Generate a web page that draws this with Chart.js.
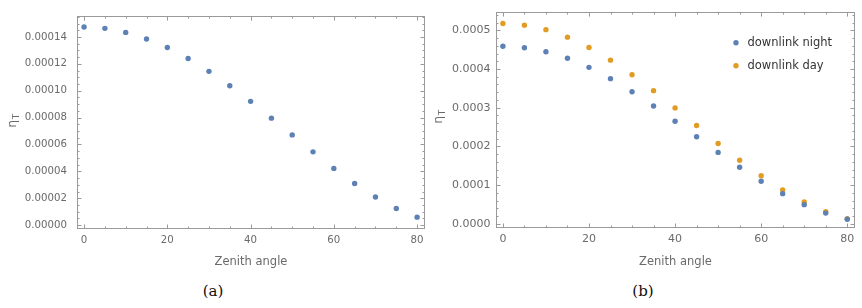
<!DOCTYPE html>
<html>
<head>
<meta charset="utf-8">
<script src="https://cdn.jsdelivr.net/npm/chart.js@4.4.1/dist/chart.umd.min.js"></script>
<style>
  html, body { margin: 0; padding: 0; background: #fff; }
  body { width: 862px; height: 308px; position: relative; overflow: hidden; }
  canvas { position: absolute; top: 0; }
  .cap { position: absolute; top: 282px; font-family: "DejaVu Serif", "Liberation Serif", serif; font-size: 15px; color: #111; width: 40px; text-align: center; }
</style>
</head>
<body>
<canvas id="ca" width="430" height="275" style="left:0px"></canvas>
<canvas id="cb" width="432" height="275" style="left:430px"></canvas>
<div class="cap" style="left:193px">(a)</div>
<div class="cap" style="left:623px">(b)</div>
<script>
// ---- data ----
const angles = [0, 5, 10, 15, 20, 25, 30, 35, 40, 45, 50, 55, 60, 65, 70, 75, 80];
const etaA = [0.0001474, 0.0001464, 0.0001434, 0.0001385, 0.0001321, 0.0001240, 0.0001144, 0.0001037,
              0.0000921, 0.0000796, 0.0000671, 0.0000545, 0.0000422, 0.0000309, 0.0000209, 0.0000123, 0.0000059];
const etaNight = [0.0004587, 0.0004550, 0.0004446, 0.0004278, 0.0004043, 0.0003750, 0.0003414, 0.0003045,
                  0.0002650, 0.0002248, 0.0001845, 0.0001460, 0.0001100, 0.0000780, 0.0000495, 0.0000277, 0.0000117];
const etaDay = [0.0005175, 0.0005133, 0.0005016, 0.0004823, 0.0004555, 0.0004228, 0.0003850, 0.0003440,
                0.0002995, 0.0002541, 0.0002076, 0.0001644, 0.0001241, 0.0000873, 0.0000562, 0.0000310, 0.0000134];
const seriesLabels = ['downlink night', 'downlink day'];
const xTicks = [0, 20, 40, 60, 80];
const yTicksA = [0, 0.00002, 0.00004, 0.00006, 0.00008, 0.00010, 0.00012, 0.00014];
const yTicksB = [0, 0.0001, 0.0002, 0.0003, 0.0004, 0.0005];
const xTitle = 'Zenith angle';
const yTitle = ['η', 'T'];

const BLUE = '#5E81B5';
const ORANGE = '#E19C24';
const TXT = '#6a6a6a';
const FRAME = '#9a9a9a';
const FONT = '"DejaVu Sans", sans-serif';

function toPts(ys) { return angles.map((a, i) => ({ x: a, y: ys[i] })); }

const framePlugin = {
  id: 'frame',
  beforeDatasetsDraw(chart, args, o) {
    const ctx = chart.ctx;
    const { left, right, top, bottom } = chart.chartArea;
    const xs = chart.scales.x, ys = chart.scales.y;
    ctx.save();
    ctx.strokeStyle = FRAME;
    ctx.lineWidth = 1;
    ctx.strokeRect(Math.round(left) + 0.5, Math.round(top) + 0.5, Math.round(right - left) - 1, Math.round(bottom - top) - 1);
    ctx.beginPath();
    const tickX = (v, len) => {
      const p = Math.round(xs.getPixelForValue(v)) + 0.5;
      ctx.moveTo(p, bottom); ctx.lineTo(p, bottom - len);
      ctx.moveTo(p, top); ctx.lineTo(p, top + len);
    };
    const tickY = (v, len) => {
      const p = Math.round(ys.getPixelForValue(v)) + 0.5;
      ctx.moveTo(left, p); ctx.lineTo(left + len, p);
      ctx.moveTo(right, p); ctx.lineTo(right - len, p);
    };
    for (let v = 0; v <= xs.max + 1e-9; v += o.xMinor) {
      if (v < xs.min) continue;
      const major = Math.abs(v / o.xMajor - Math.round(v / o.xMajor)) < 1e-6;
      tickX(v, major ? 4.5 : 2.5);
    }
    const n0 = Math.ceil(ys.min / o.yMinor - 1e-6), n1 = Math.floor(ys.max / o.yMinor + 1e-6);
    for (let n = n0; n <= n1; n++) {
      const v = n * o.yMinor;
      const r = v / o.yMajor;
      const major = Math.abs(r - Math.round(r)) < 1e-6;
      tickY(v, major ? 4.5 : 2.5);
    }
    ctx.stroke();
    ctx.restore();
  },
  afterDraw(chart, args, o) {
    const ctx = chart.ctx;
    ctx.save();
    ctx.fillStyle = TXT;
    ctx.translate(o.yTitleX, o.yTitleY);
    ctx.rotate(-Math.PI / 2);
    ctx.textBaseline = 'alphabetic';
    ctx.font = '12.5px ' + FONT;
    const w1 = ctx.measureText(yTitle[0]).width;
    ctx.font = '9px ' + FONT;
    const w2 = ctx.measureText(yTitle[1]).width;
    const start = -(w1 + w2) / 2;
    ctx.font = '12.5px ' + FONT;
    ctx.fillText(yTitle[0], start, 4);
    ctx.font = '9px ' + FONT;
    ctx.fillText(yTitle[1], start + w1 + 0.5, 7);
    ctx.restore();
    if (o.legend) {
      ctx.save();
      ctx.font = '11.5px ' + FONT;
      ctx.textBaseline = 'middle';
      chart.data.datasets.forEach((ds, i) => {
        const y = o.legend.y + i * o.legend.dy;
        ctx.fillStyle = ds.backgroundColor;
        ctx.beginPath();
        ctx.arc(o.legend.x, y, 2.7, 0, Math.PI * 2);
        ctx.fill();
        ctx.fillStyle = '#333';
        ctx.fillText(ds.label, o.legend.x + 11.5, y);
      });
      ctx.restore();
    }
  }
};

function makeChart(id, datasets, cfg) {
  return new Chart(document.getElementById(id), {
    type: 'scatter',
    data: { datasets },
    plugins: [framePlugin],
    options: {
      responsive: false,
      animation: false,
      devicePixelRatio: 1,
      layout: { padding: { left: 0, top: cfg.padTop, right: cfg.padRight, bottom: 0 } },
      plugins: {
        legend: { display: false },
        tooltip: { enabled: false },
        frame: cfg.frame
      },
      elements: { point: { radius: 2.7, borderWidth: 0, hoverRadius: 2.7 } },
      scales: {
        x: {
          type: 'linear', min: cfg.xMin, max: cfg.xMax,
          afterBuildTicks: s => { s.ticks = xTicks.map(v => ({ value: v })); },
          afterFit: s => { s.height = cfg.xAxisH; },
          grid: { display: false, drawTicks: false },
          border: { display: false },
          ticks: { font: { family: FONT, size: cfg.tickSize }, color: TXT, padding: 5, maxRotation: 0, autoSkip: false, callback: v => String(v) },
          title: { display: true, text: xTitle, font: { family: FONT, size: 11.5 }, color: TXT, padding: { top: 0, bottom: 6 } }
        },
        y: {
          type: 'linear', min: cfg.yMin, max: cfg.yMax,
          afterBuildTicks: s => { s.ticks = cfg.yTicks.map(v => ({ value: v })); },
          afterFit: s => { s.width = cfg.yAxisW; },
          grid: { display: false, drawTicks: false },
          border: { display: false },
          ticks: { font: { family: FONT, size: cfg.tickSize }, color: TXT, padding: cfg.yPad, autoSkip: false, callback: v => Number(v).toFixed(cfg.dec) },
          title: { display: false }
        }
      }
    }
  });
}

makeChart('ca', [
  { label: 'η_T', data: toPts(etaA), backgroundColor: BLUE, clip: false }
], {
  padTop: 14, padRight: 5, xAxisH: 46, yAxisW: 77, yPad: 10, tickSize: 10.2,
  xMin: -1.7, xMax: 81.9, yMin: -0.0000029, yMax: 0.0001555,
  yTicks: yTicksA, dec: 5,
  frame: { xMajor: 20, xMinor: 5, yMajor: 0.00002, yMinor: 0.000005, yTitleX: 12, yTitleY: 121 }
});

makeChart('cb', [
  { label: seriesLabels[0], data: toPts(etaNight), backgroundColor: BLUE, clip: false },
  { label: seriesLabels[1], data: toPts(etaDay), backgroundColor: ORANGE, clip: false }
], {
  padTop: 7, padRight: 7, xAxisH: 47, yAxisW: 66, yPad: 5.5, tickSize: 11,
  xMin: -1.6, xMax: 81.8, yMin: -0.0000108, yMax: 0.000547,
  yTicks: yTicksB, dec: 4,
  frame: { xMajor: 20, xMinor: 5, yMajor: 0.0001, yMinor: 0.00002, yTitleX: 8, yTitleY: 117,
           legend: { x: 306, y: 42.7, dy: 23 } }
});
</script>
</body>
</html>
